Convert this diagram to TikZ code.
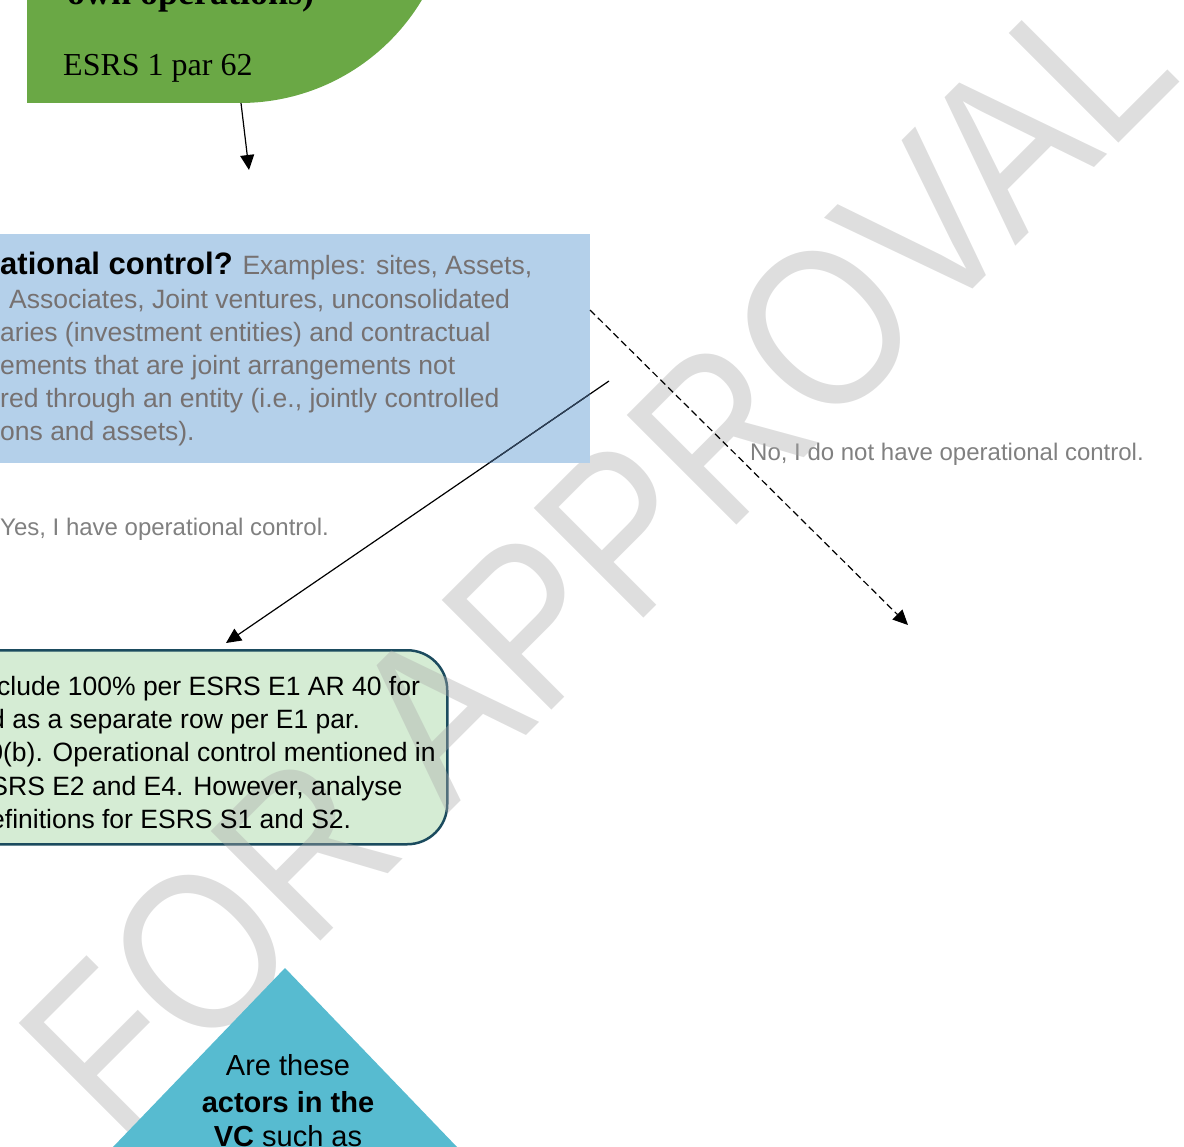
\documentclass[tikz,border=0pt]{standalone}
\usepackage{fontspec}
\usepackage{graphicx}
\usetikzlibrary{arrows.meta}
\newfontfamily\arialf{Liberation Sans}
\newfontfamily\serf{Liberation Serif}
\definecolor{topgreen}{RGB}{106,168,69}
\definecolor{boxblue}{RGB}{180,208,234}
\definecolor{boxgreen}{RGB}{213,236,212}
\definecolor{boxedge}{RGB}{27,75,94}
\definecolor{trifill}{RGB}{87,187,208}
\definecolor{txtgray}{RGB}{118,113,113}
\definecolor{lblgray}{RGB}{128,128,128}
\definecolor{wmgray}{RGB}{170,170,170}
\definecolor{navyline}{RGB}{45,65,90}
\tikzset{
  arr/.style={line width=1.2pt, -{Triangle[length=15pt,width=14pt]}},
  dasharr/.style={arr, dash pattern=on 7pt off 4pt},
  bodytxt/.style={anchor=base west, inner sep=0pt, font=\arialf\fontsize{26.5}{32}\selectfont},
  graytxt/.style={bodytxt, text=txtgray},
  lbltxt/.style={anchor=base west, inner sep=0pt, text=lblgray, font=\arialf\fontsize{24}{28}\selectfont},
  tritxt/.style={anchor=base, inner sep=0pt, font=\arialf\fontsize{29}{35}\selectfont},
}
\begin{document}
\begin{tikzpicture}[x=1pt,y=-1pt]
\useasboundingbox (0,0) rectangle (1184,1147);
\clip (0,0) rectangle (1184,1147);
% top green shape
\fill[topgreen] (27,-400) rectangle (240,103);
\fill[topgreen] (240,-109) circle[radius=212pt];
\node[anchor=base west, inner sep=0pt, font=\serf\bfseries\fontsize{36}{40}\selectfont] (toptitle) at (67,5) {own operations)};
\node[anchor=base west, inner sep=0pt, font=\serf\fontsize{32}{38}\selectfont] (topref) at (63,76) {ESRS 1 par 62};
\coordinate (topshape) at (241,103);
\coordinate (topend) at (249,170);
\draw[arr] (topshape) -- (topend);
% green rounded box
\node[draw=boxedge, fill=boxgreen, line width=2.5pt, rounded corners=40pt, anchor=north west,
      minimum width=506pt, minimum height=194pt, inner sep=0pt] (gbox) at (-60,649) {};
% labels under watermark
\node[lbltxt] (nolbl) at (750,461) {No, I do not have operational control.};
\node[lbltxt] (yeslbl) at (0,535) {Yes, I have operational control.};
% watermark
\node[rotate=45, anchor=base, inner sep=0pt, text=wmgray, text opacity=0.39,
      font=\arialf\fontsize{196}{196}\selectfont] (wmark) at (651,611) {\scalebox{1}[1.15]{FOR APPROVAL}};
% green box text
\node[bodytxt] (g1) at (-3,695) {clude 100\% per ESRS E1 AR 40 for};
\node[bodytxt] (g2) at (-10,728) {d as a separate row per E1 par.};
\node[bodytxt] (g3) at (-11.8,761) {0(b). Operational control mentioned in};
\node[bodytxt] (g4) at (-9.7,795) {SRS E2 and E4. However, analyse};
\node[bodytxt] (g5) at (-10,828) {efinitions for ESRS S1 and S2.};
% blue box
\node[fill=boxblue, anchor=north west, minimum width=600pt, minimum height=229pt, inner sep=0pt] (qbox) at (-10,234) {};
\node[graytxt] (q1) at (0,275) {{\color{black}\bfseries\fontsize{31}{36}\selectfont ational control?} Examples: sites, Assets,};
\node[graytxt] (q2) at (9,309) {Associates, Joint ventures, unconsolidated};
\node[graytxt] (q3) at (0,342) {aries (investment entities) and contractual};
\node[graytxt] (q4) at (0,375) {ements that are joint arrangements not};
\node[graytxt] (q5) at (0,408) {red through an entity (i.e., jointly controlled};
\node[graytxt] (q6) at (0,441) {ons and assets).};
% connectors
\coordinate (yesstart) at (609,381);
\coordinate (yesend) at (226,643);
\coordinate (nostart) at (590,310);
\coordinate (noend) at (908,625);
\draw[arr] (yesstart) -- (yesend);
\begin{scope}
  \clip (-10,234) rectangle (590,463);
  \draw[line width=1.2pt, navyline] (yesstart) -- (yesend);
\end{scope}
\draw[dasharr] (nostart) -- (noend);
% triangle
\fill[trifill] (285,968) -- (100.5,1160) -- (469.5,1160) -- cycle;
\node[tritxt] (t1) at (288,1075) {Are these};
\node[tritxt] (t2) at (288,1112) {\bfseries actors in the};
\node[tritxt] (t3) at (288,1146) {\textbf{VC} such as};
\end{tikzpicture}
\end{document}
